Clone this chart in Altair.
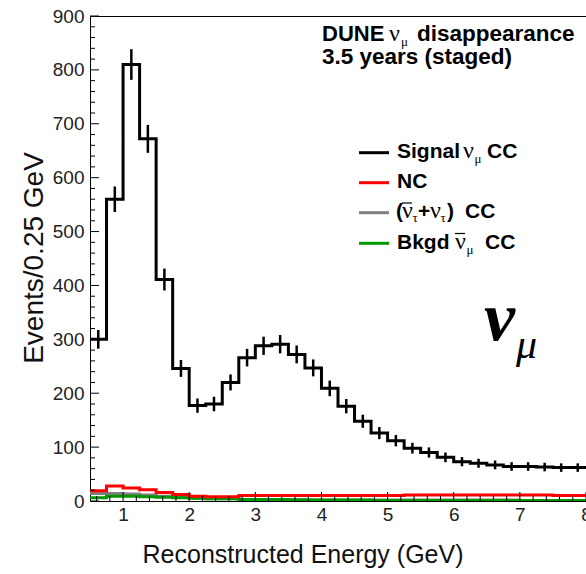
import altair as alt
import pandas as pd

# ---------------- data ----------------
bin_edges = [0.5, 0.75, 1.0, 1.25, 1.5, 1.75, 2.0, 2.25, 2.5, 2.75, 3.0, 3.25,
             3.5, 3.75, 4.0, 4.25, 4.5, 4.75, 5.0, 5.25, 5.5, 5.75, 6.0, 6.25,
             6.5, 6.75, 7.0, 7.25, 7.5, 7.75, 8.0]
signal = [300, 560, 810, 672, 411, 246, 177, 180, 220, 266, 288, 291, 272, 247, 209,
          176, 148, 126, 112, 98, 90, 81, 73, 70, 67, 64, 64, 63, 62, 62]
nc = [19, 28, 24, 21, 16, 12, 9, 8, 8, 10, 10, 10, 10, 10, 10,
      10, 10, 10, 10, 11, 11, 11, 11, 11, 11, 11, 11, 11, 10, 10]
tau = [14, 14, 13, 11, 9, 7, 5, 4, 4, 3, 3, 3, 3, 2, 2,
       2, 2, 2, 2, 2, 2, 2, 2, 2, 2, 2, 1, 1, 1, 1]
numubar = [6, 9, 9, 8, 7, 6, 5, 4, 4, 3, 3, 3, 2, 2, 2,
           2, 2, 1, 1, 1, 1, 1, 1, 1, 1, 1, 1, 1, 1, 1]
x_major = [1, 2, 3, 4, 5, 6, 7, 8]
y_major = [0, 100, 200, 300, 400, 500, 600, 700, 800, 900]
x_minor = [round(0.6 + 0.2 * i, 1) for i in range(37)
           if abs((0.6 + 0.2 * i) - round(0.6 + 0.2 * i)) > 1e-6]
y_minor = [v for v in range(0, 901, 20) if v % 100]

# ---------------- layout ----------------
L, T = 90, 16
W, H = 496, 485

xscale = alt.Scale(domain=[0.5, 8], nice=False, zero=False)
yscale = alt.Scale(domain=[0, 900], nice=False, zero=False)
xaxis = alt.Axis(values=x_major, title=None, labelFlush=False, labelPadding=4,
                 domain=False, ticks=False, grid=False, format="d")
yaxis = alt.Axis(values=y_major, title=None, labelFlush=False, labelPadding=6,
                 domain=False, ticks=False, grid=False, format="d")


def step_df(vals):
    return pd.DataFrame({"x": bin_edges[:], "y": vals[:] + [vals[-1]]})


def line_layer(vals, color, sw=3):
    return alt.Chart(step_df(vals)).mark_line(
        interpolate="step-after", color=color, strokeWidth=sw, clip=True
    ).encode(x=alt.X("x:Q", scale=xscale, axis=xaxis),
             y=alt.Y("y:Q", scale=yscale, axis=yaxis))


err_df = pd.DataFrame({
    "x": [(bin_edges[i] + bin_edges[i + 1]) / 2 for i in range(len(signal))],
    "v": signal,
})
errs = alt.Chart(err_df).transform_calculate(
    y="datum.v - sqrt(datum.v)", hi="datum.v + sqrt(datum.v)"
).mark_rule(color="black", strokeWidth=2.5, clip=True).encode(
    x=alt.X("x:Q", scale=xscale, axis=xaxis),
    y=alt.Y("y:Q", scale=yscale, axis=yaxis),
    y2="hi:Q",
)


def xticks(vals, length):
    return alt.Chart(pd.DataFrame({"x": vals})).mark_rule(color="black", strokeWidth=1).encode(
        x=alt.X("x:Q", scale=xscale, axis=xaxis), y=alt.value(H), y2=alt.value(H - length))


def yticks(vals, length):
    return alt.Chart(pd.DataFrame({"y": vals})).mark_rule(color="black", strokeWidth=1).encode(
        y=alt.Y("y:Q", scale=yscale, axis=yaxis), x=alt.value(0), x2=alt.value(length))


dummy = pd.DataFrame({"a": [0]})


def txt(text, x, y, size, weight="bold", font="Liberation Sans", style="normal",
        align="left", baseline="alphabetic", angle=0, color="black"):
    kw = dict(align=align, baseline=baseline, font=font, fontSize=size,
              fontWeight=weight, fontStyle=style, color=color)
    if angle:
        kw["angle"] = angle
    return alt.Chart(dummy).mark_text(**kw).encode(
        x=alt.value(x - L), y=alt.value(y - T), text=alt.value(text))


def hline(x1, x2, y, color, sw):
    return alt.Chart(dummy).mark_rule(color=color, strokeWidth=sw).encode(
        x=alt.value(x1 - L), x2=alt.value(x2 - L), y=alt.value(y - T))


SERIF = "Liberation Serif"
NU = 24
SUB = 13
layers = [
    line_layer(tau, "#7f7f7f"),
    line_layer(numubar, "#009900"),
    line_layer(nc, "#ff0000"),
    line_layer(signal, "black"),
    errs,
    xticks(x_major, 9), xticks(x_minor, 5),
    yticks(y_major, 9), yticks(y_minor, 5),
    # header
    txt("DUNE", 322, 41, 22),
    txt("ν", 389, 41, NU, weight="normal", font=SERIF),
    txt("μ", 401, 46, SUB, weight="normal", font=SERIF),
    txt("disappearance", 417, 41, 22.5),
    txt("3.5 years (staged)", 322, 64, 22.5),
    # legend
    hline(359, 389, 152.7, "black", 3), hline(359, 389, 182.7, "#ff0000", 3),
    hline(359, 389, 212.7, "#7f7f7f", 3), hline(359, 389, 243.3, "#009900", 3),
    txt("Signal", 397, 158, 21),
    txt("ν", 463, 158, NU, weight="normal", font=SERIF),
    txt("μ", 474.5, 163, SUB, weight="normal", font=SERIF),
    txt("CC", 487, 158, 21),
    txt("NC", 397, 188, 21),
    txt("(", 396, 218, 21),
    txt("ν", 402, 218, NU, weight="normal", font=SERIF),
    hline(402, 412, 203, "black", 1.2),
    txt("τ", 412.5, 222, SUB, weight="normal", font=SERIF),
    txt("+", 418, 218, 21),
    txt("ν", 430, 218, NU, weight="normal", font=SERIF),
    txt("τ", 440.5, 222, SUB, weight="normal", font=SERIF),
    txt(")", 447, 218, 21),
    txt("CC", 465, 218, 21),
    txt("Bkgd", 397, 248.5, 21),
    txt("ν", 455, 248.5, NU, weight="normal", font=SERIF),
    hline(455, 465, 233.5, "black", 1.2),
    txt("μ", 466.5, 253.5, SUB, weight="normal", font=SERIF),
    txt("CC", 485, 248.5, 21),
    # big nu_mu
    txt("ν", 484, 340, 70, weight="bold", font=SERIF, style="italic"),
    txt("μ", 516, 358, 42, weight="normal", font=SERIF, style="italic"),
    # axis titles
    txt("Reconstructed Energy (GeV)", 303, 555, 25, weight="normal",
        align="center", baseline="middle", color="#111"),
    txt("Events/0.25 GeV", 35, 258, 28, weight="normal",
        align="center", baseline="middle", angle=270, color="#111"),
]

chart = alt.layer(*layers).properties(
    width=W, height=H,
    autosize=alt.AutoSizeParams(type="none"),
    padding={"left": L, "top": T, "right": 0, "bottom": 574 - T - H},
    background="white",
).configure_view(
    stroke="black", strokeWidth=1
).configure_axis(
    labelFont="Liberation Sans", labelFontSize=19, labelColor="#222",
)

chart.save("out.html", embed_options={"renderer": "svg", "actions": False})
